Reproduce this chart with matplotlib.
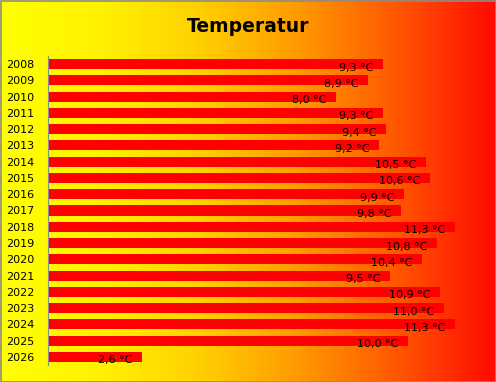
import numpy as np
import matplotlib
matplotlib.use("Agg")
import matplotlib.pyplot as plt
from matplotlib.colors import LinearSegmentedColormap

years = [str(y) for y in range(2008, 2027)]
temps = [9.3, 8.9, 8.0, 9.3, 9.4, 9.2, 10.5, 10.6, 9.9, 9.8,
         11.3, 10.8, 10.4, 9.5, 10.9, 11.0, 11.3, 10.0, 2.6]
labels = [f"{t:.1f}".replace(".", ",") + " °C" for t in temps]

W, H = 496, 382
fig = plt.figure(figsize=(W / 100, H / 100), dpi=100)

# background: yellow -> orange -> red, left to right
bg = fig.add_axes([0, 0, 1, 1])
cmap = LinearSegmentedColormap.from_list(
    "heat", [(0, "#ffff00"), (100 / W, "#fff200"), (200 / W, "#ffd000"),
             (300 / W, "#ff9900"), (400 / W, "#ff5500"), (1, "#ff0a00")])
bg.imshow(np.linspace(0, 1, 512)[None, :], aspect="auto", cmap=cmap,
          extent=[0, 1, 0, 1])
bg.set_axis_off()
fig.patches.append(plt.Rectangle((0.5 / W, 0.5 / H), 1 - 1 / W, 1 - 1 / H,
                                  transform=fig.transFigure, fill=False,
                                  edgecolor="#8c8c8c", linewidth=1.2, zorder=10))

left, right = 48 / W, 480 / W
bottom, top = 1 - 365.1 / H, 1 - 55.9 / H
ax = fig.add_axes([left, bottom, right - left, top - bottom])
ax.patch.set_alpha(0)

y = np.arange(len(years))
ax.barh(y, temps, height=0.62, color="#ff0000")
for yi, t, lab in zip(y, temps, labels):
    ax.annotate(lab, (t, yi), xytext=(-7, -2.5), textcoords="offset points",
                ha="right", va="center", fontsize=8, color="black")

ax.set_xlim(0, 12)
ax.set_ylim(len(years) - 0.5, -0.5)
ax.set_yticks(y)
ax.set_yticklabels(years, fontsize=8)
ax.tick_params(axis="y", length=0, pad=10)
ax.set_xticks([])
for s in ["top", "right", "bottom"]:
    ax.spines[s].set_visible(False)
ax.spines["left"].set_color("#8c8c8c")

fig.text(0.5, 1 - 26 / H, "Temperatur", ha="center", va="center",
         fontsize=13.5, fontweight="bold")

fig.savefig("out.png", dpi=100)
